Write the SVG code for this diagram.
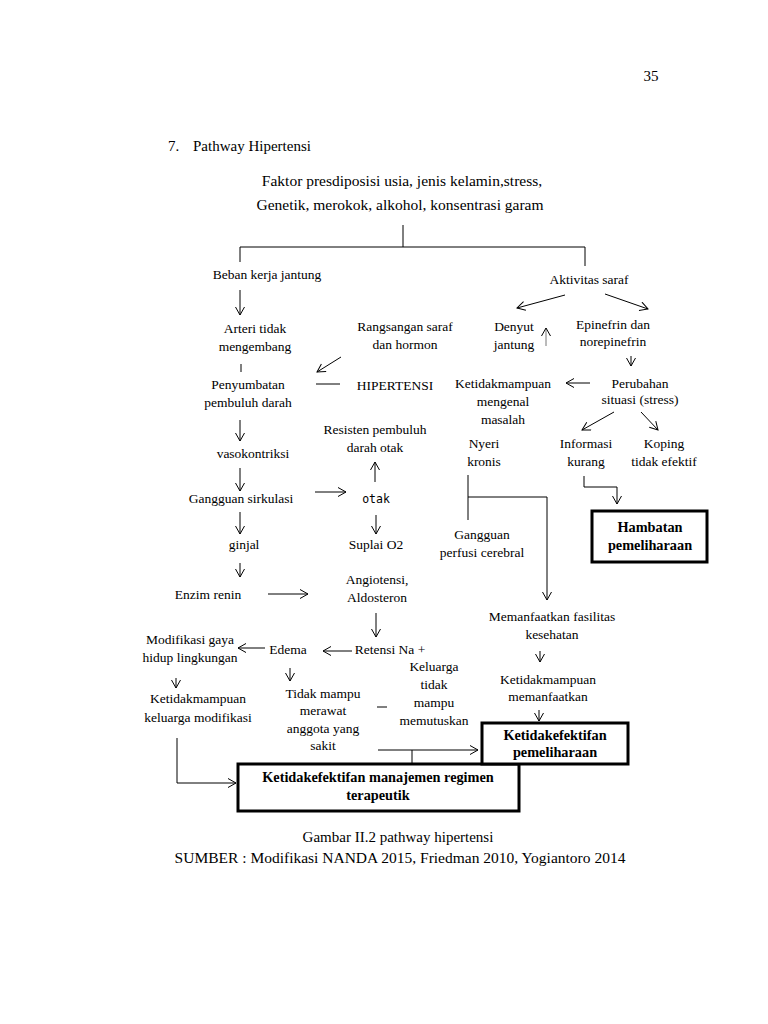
<svg xmlns="http://www.w3.org/2000/svg" width="768" height="1024" viewBox="0 0 768 1024">
<defs>
<marker id="ah" markerWidth="12" markerHeight="12" refX="9" refY="5" orient="auto" markerUnits="userSpaceOnUse">
<path d="M1,0.5 L9,5 L1,9.5" fill="none" stroke="#000" stroke-width="1"/>
</marker>
<style>
text{font-family:"Liberation Serif","Times New Roman",serif;font-size:13.5px;fill:#000;text-anchor:middle}
.b{font-weight:bold;font-size:14.3px}
.l{stroke:#000;stroke-width:1;fill:none}
.a{stroke:#000;stroke-width:1;fill:none;marker-end:url(#ah)}
.box{stroke:#000;stroke-width:3;fill:#fff}
.h{font-size:15px}
.c{font-size:15.5px}
</style>
</defs>
<rect width="768" height="1024" fill="#fff"/>
<text x="651" y="81" class="h">35</text>
<text x="168" y="151" class="h" style="text-anchor:start">7.</text>
<text x="193" y="151" class="h" style="text-anchor:start">Pathway Hipertensi</text>

<g id="faktor"><text x="402" y="186" class="c">Faktor presdiposisi usia, jenis kelamin,stress,</text><text x="400" y="210" class="c">Genetik, merokok, alkohol, konsentrasi garam</text></g>
<g id="beban"><text x="267" y="279">Beban kerja jantung</text></g>
<g id="aktivitas"><text x="589" y="284">Aktivitas saraf</text></g>
<g id="arteri"><text x="255" y="333">Arteri tidak</text><text x="255" y="351">mengembang</text></g>
<g id="rangsangan"><text x="405" y="331">Rangsangan saraf</text><text x="405" y="349">dan hormon</text></g>
<g id="penyumbatan"><text x="248" y="389">Penyumbatan</text><text x="248" y="407">pembuluh darah</text></g>
<g id="hipertensi"><text x="395" y="390">HIPERTENSI</text></g>
<g id="vasokontriksi"><text x="253" y="458">vasokontriksi</text></g>
<g id="resisten"><text x="375" y="434">Resisten pembuluh</text><text x="375" y="452">darah otak</text></g>
<g id="gangguan-sirkulasi"><text x="241" y="503">Gangguan sirkulasi</text></g>
<g id="otak"><text x="376" y="503" style="font-family:'DejaVu Sans Mono','Liberation Mono',monospace;font-size:11.5px">otak</text></g>
<g id="ginjal"><text x="244" y="549">ginjal</text></g>
<g id="suplai"><text x="376" y="549">Suplai O2</text></g>
<g id="enzim"><text x="208" y="599">Enzim renin</text></g>
<g id="angiotensi"><text x="377" y="584">Angiotensi,</text><text x="377" y="602">Aldosteron</text></g>
<g id="retensi"><text x="390" y="654">Retensi Na +</text></g>
<g id="edema"><text x="288" y="654">Edema</text></g>
<g id="modifikasi"><text x="190" y="644">Modifikasi gaya</text><text x="190" y="662">hidup lingkungan</text></g>
<g id="ketidakmampuan-keluarga"><text x="198" y="703">Ketidakmampuan</text><text x="198" y="722">keluarga modifikasi</text></g>
<g id="tidak-mampu"><text x="323" y="698">Tidak mampu</text><text x="323" y="715">merawat</text><text x="323" y="733">anggota yang</text><text x="323" y="750">sakit</text></g>
<g id="keluarga"><text x="434" y="671">Keluarga</text><text x="434" y="689">tidak</text><text x="434" y="707">mampu</text><text x="434" y="725">memutuskan</text></g>
<g id="denyut"><text x="514" y="331">Denyut</text><text x="514" y="349">jantung</text></g>
<g id="epinefrin"><text x="613" y="329">Epinefrin dan</text><text x="613" y="346">norepinefrin</text></g>
<g id="perubahan"><text x="640" y="388">Perubahan</text><text x="640" y="404">situasi (stress)</text></g>
<g id="ketidakmampuan-mengenal"><text x="503" y="388">Ketidakmampuan</text><text x="503" y="406">mengenal</text><text x="503" y="424">masalah</text></g>
<g id="nyeri"><text x="484" y="448">Nyeri</text><text x="484" y="466">kronis</text></g>
<g id="informasi"><text x="586" y="448">Informasi</text><text x="586" y="466">kurang</text></g>
<g id="koping"><text x="664" y="448">Koping</text><text x="664" y="466">tidak efektif</text></g>
<g id="hambatan"><rect x="592" y="511" width="115" height="51" class="box"/><text x="650" y="532" class="b">Hambatan</text><text x="650" y="550" class="b">pemeliharaan</text></g>
<g id="gangguan-perfusi"><text x="482" y="539">Gangguan</text><text x="482" y="557">perfusi cerebral</text></g>
<g id="memanfaatkan"><text x="552" y="621">Memanfaatkan fasilitas</text><text x="552" y="639">kesehatan</text></g>
<g id="ketidakmampuan-memanfaatkan"><text x="548" y="684">Ketidakmampuan</text><text x="548" y="701">memanfaatkan</text></g>
<g id="ketidakefektifan-manajemen"><rect x="238" y="764" width="281" height="47" class="box"/><text x="378" y="782" class="b">Ketidakefektifan  manajemen regimen</text><text x="378" y="800" class="b">terapeutik</text></g>
<g id="ketidakefektifan-pemeliharaan"><rect x="482" y="723" width="146" height="41" class="box"/><text x="555" y="740" class="b">Ketidakefektifan</text><text x="555" y="757" class="b">pemeliharaan</text></g>

<g id="connectors">
<path class="l" d="M403,225 V247 M240,262 V247 H585 V266"/>
<path class="a" d="M240,290 V315"/>
<path class="l" d="M241,364 V372"/>
<path class="a" d="M341,357 L317,372"/>
<path class="l" d="M316,384 H340"/>
<path class="a" d="M240,420 V441"/>
<path class="a" d="M240,468 V491"/>
<path class="a" d="M240,512 V534"/>
<path class="a" d="M240,563 V577"/>
<path class="a" d="M268,594 H308"/>
<path class="a" d="M315,492 H346"/>
<path class="a" d="M375,482 V462"/>
<path class="a" d="M376,515 V534"/>
<path class="a" d="M376,613 V637"/>
<path class="a" d="M352,651 H323"/>
<path class="a" d="M265,648 H238"/>
<path class="a" d="M176,678 V688"/>
<path class="a" d="M290,668 V681"/>
<path class="a" d="M177,738 V783 H236"/>
<path class="l" d="M377,707 H387"/>
<path class="a" d="M378,750 H478"/>
<path class="l" d="M412,750 V764"/>
<path class="a" d="M565,295 L517,308"/>
<path class="a" d="M605,294 L648,309"/>
<path class="a" d="M546,346 V328" style="stroke:#777"/>
<path class="a" d="M631,356 V366"/>
<path class="a" d="M590,383 H566"/>
<path class="a" d="M614,412 L582,430"/>
<path class="a" d="M641,412 L658,430"/>
<path class="a" d="M584,476 V487 H617 V504"/>
<path class="l" d="M468,475 V520"/>
<path class="a" d="M468,497 H547 V600"/>
<path class="a" d="M540,651 V662"/>
<path class="a" d="M539,710 V721"/>
</g>

<text x="398" y="842" class="h">Gambar II.2 pathway hipertensi</text>
<text x="400" y="863" class="c">SUMBER : Modifikasi NANDA 2015, Friedman 2010, Yogiantoro 2014</text>
</svg>
